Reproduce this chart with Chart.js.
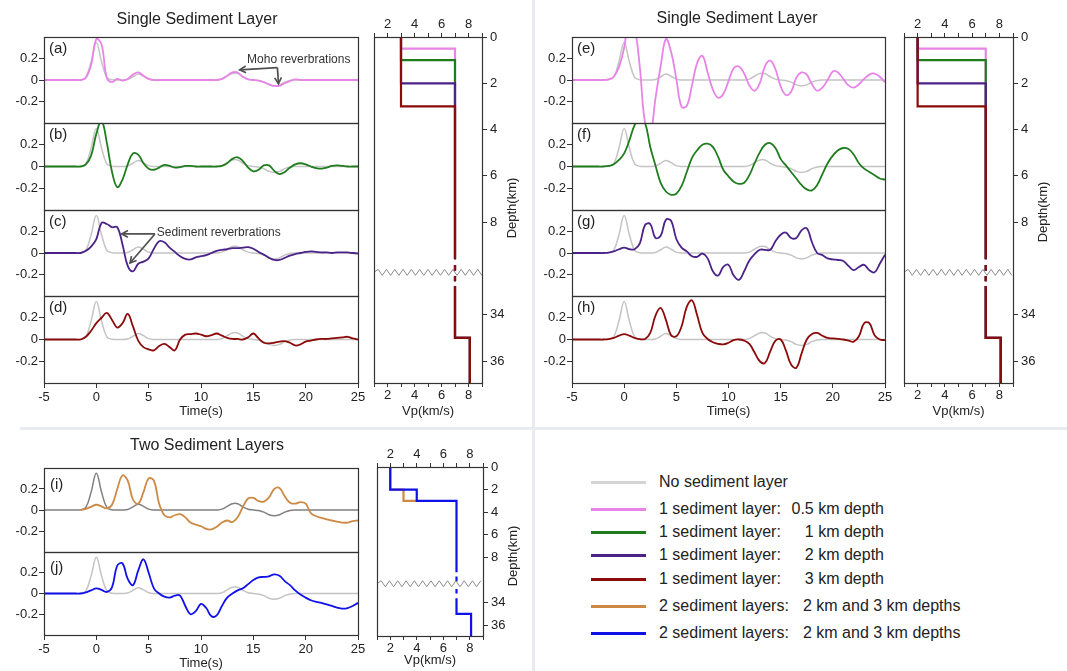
<!DOCTYPE html>
<html>
<head>
<meta charset="utf-8">
<script src="https://cdn.jsdelivr.net/npm/chart.js@4.4.1/dist/chart.umd.min.js"></script>
<style>
  body { margin: 0; background: #fff; }
  #page { position: relative; width: 1067px; height: 671px; overflow: hidden; font-family: "Liberation Sans", Arial, sans-serif; color: #222; }
  canvas { position: absolute; }
  .txt { position: absolute; white-space: pre; line-height: 1; }
  .sep { position: absolute; background: #e8ecf1; }
</style>
</head>
<body>
<div id="page">
  <div class="sep" style="left:532px;top:0;width:3px;height:671px"></div>
  <div class="sep" style="left:20px;top:427px;width:1047px;height:3px"></div>
</div>
<script>
// time axis (s), sampled every 0.5 s
const time = [-5,-4.5,-4,-3.5,-3,-2.5,-2,-1.5,-1,-0.5,
  0,0.5,1,1.5,2,2.5,3,3.5,4,4.5,
  5,5.5,6,6.5,7,7.5,8,8.5,9,9.5,
  10,10.5,11,11.5,12,12.5,13,13.5,14,14.5,
  15,15.5,16,16.5,17,17.5,18,18.5,19,19.5,
  20,20.5,21,21.5,22,22.5,23,23.5,24,24.5,
  25];

// no sediment layer (reference trace)
const noSed = [0,0,0,0,0,0,0,0.003,0.025,0.17,
  0.35,0.17,0.025,0.003,0,0,0.005,0.03,0.055,0.035,
  0.008,0,0,0,0,0,0,0,0,0,
  0,0,0,0,0.008,0.035,0.06,0.06,0.03,0.008,
  0,-0.005,-0.02,-0.045,-0.055,-0.045,-0.02,-0.005,0,0,
  0,0,0,0,0,0,0,0,0,0,
  0];

// left column (a)-(d)
const sedA = [0,0,0,0,0,0,0,0,0.02,0.14,
  0.38,0.33,0.02,-0.02,0.01,-0.005,0.01,0.05,0.07,0.04,
  0.01,0,0,0,0,0,0,0,0,0,
  0,0,0,0,0.01,0.04,0.07,0.07,0.03,0.005,
  0,-0.005,-0.02,-0.04,-0.055,-0.055,-0.03,-0.01,0.005,0,
  0,0,0,0,0,0,0,0,0,0,
  0];
const sedB = [0,0,0,0,0,0,0,0,0.02,0.1,
  0.3,0.42,0.22,-0.05,-0.19,-0.12,0.02,0.12,0.11,0.03,
  -0.02,-0.03,-0.01,0.015,0.005,-0.01,-0.005,0.005,0.005,0,
  0,0,0,0,0.005,0.03,0.07,0.085,0.05,-0.01,
  -0.045,-0.03,0.01,0.01,-0.04,-0.07,-0.05,-0.01,0.02,0.03,
  0.02,0,-0.015,-0.02,-0.01,0.005,0.01,0.005,0,0,
  0];
const sedC = [0,0,0,0,0,0,0,0,0.02,0.06,
  0.13,0.28,0.27,0.24,0.24,0.08,-0.12,-0.17,-0.1,-0.08,
  -0.05,0.04,0.11,0.1,0.05,0.01,-0.03,-0.055,-0.06,-0.04,
  -0.03,-0.02,0,0.02,0.03,0.035,0.045,0.045,0.05,0.055,
  0.04,0.01,-0.015,-0.045,-0.065,-0.065,-0.045,-0.025,-0.01,0,
  0.01,0.015,0.01,0.005,0.005,0,0.005,0.005,0.005,0,
  -0.005];
const sedD = [0,0,0,0,0,0,0,0,0.025,0.08,
  0.15,0.2,0.245,0.18,0.11,0.15,0.235,0.12,-0.01,-0.07,
  -0.09,-0.1,-0.06,-0.04,-0.07,-0.1,0,0.045,0.05,0.055,
  0.045,0.03,0.04,0.055,0.035,0.015,0.005,0.005,0,0.02,
  0.055,0.01,-0.03,-0.035,-0.03,-0.02,-0.015,-0.03,-0.055,-0.045,
  -0.02,-0.01,0,0.005,0.005,0.01,0.015,0.02,0.025,0.01,
  0];

// right column (e)-(h)
const sedE = [0,0,0,0,0,0,0,0.005,0.03,0.12,
  0.3,0.62,0.5,0.12,-0.4,-0.5,-0.17,0.13,0.38,0.26,
  0.01,-0.25,-0.24,-0.05,0.16,0.225,0.07,-0.09,-0.165,-0.13,
  -0.01,0.11,0.125,0.06,-0.05,-0.1,-0.03,0.13,0.18,0.1,
  -0.06,-0.14,-0.11,0.02,0.07,0.05,-0.04,-0.1,-0.07,0,
  0.08,0.07,0.01,-0.05,-0.07,-0.04,0.01,0.05,0.06,0.03,
  -0.02];
const sedF = [0,0,0,0,0,0,0,0.005,0.02,0.06,
  0.12,0.24,0.38,0.44,0.4,0.18,0.01,-0.15,-0.23,-0.26,
  -0.25,-0.18,-0.05,0.08,0.15,0.2,0.21,0.18,0.09,-0.03,
  -0.09,-0.14,-0.16,-0.15,-0.08,0.03,0.13,0.2,0.215,0.17,
  0.07,0.01,-0.05,-0.11,-0.17,-0.21,-0.22,-0.17,-0.07,0.03,
  0.1,0.15,0.17,0.16,0.11,0.03,-0.02,-0.05,-0.08,-0.11,
  -0.12];
const sedG = [0,0,0,0,0,0,0,0.003,0.015,0.035,
  0.05,0.035,0.035,0.09,0.26,0.27,0.14,0.16,0.31,0.3,
  0.13,0.05,0.015,-0.03,-0.035,-0.005,-0.05,-0.17,-0.21,-0.13,
  -0.11,-0.21,-0.25,-0.17,-0.07,-0.01,0.03,0.03,0.03,0.11,
  0.17,0.19,0.14,0.14,0.21,0.23,0.1,0,-0.02,-0.05,
  -0.06,-0.065,-0.075,-0.12,-0.16,-0.13,-0.11,-0.16,-0.18,-0.1,
  -0.015];
const sedH = [0,0,0,0,0,0,0,0.003,0.015,0.035,
  0.05,0.035,0.015,0.003,0.005,0.06,0.22,0.29,0.18,0.04,
  0.03,0.12,0.3,0.36,0.22,0.06,0.005,-0.025,-0.04,-0.045,
  -0.03,-0.005,0,-0.01,-0.04,-0.12,-0.2,-0.215,-0.11,-0.01,
  0,-0.1,-0.23,-0.26,-0.13,0,0.05,0.06,0.035,0.015,
  0.01,0.005,0,-0.01,-0.02,0.03,0.15,0.15,0.04,0,
  -0.005];

// two sediment layers (i), (j)
const twoI = [null,null,null,null,null,null,null,0,0.01,0.03,
  0.05,0.035,0.015,0.05,0.2,0.33,0.28,0.1,0.06,0.17,
  0.3,0.28,0.06,-0.05,-0.07,-0.05,-0.04,-0.07,-0.12,-0.14,
  -0.155,-0.18,-0.185,-0.16,-0.12,-0.1,-0.115,-0.07,0.03,0.11,
  0.115,0.085,0.08,0.12,0.2,0.21,0.13,0.07,0.06,0.075,
  0.06,-0.03,-0.06,-0.075,-0.09,-0.1,-0.11,-0.12,-0.12,-0.105,
  -0.1];
const twoJ = [0,0,0,0,0,0,0,0,0.01,0.03,
  0.05,0.035,0.015,0.06,0.27,0.29,0.14,0.08,0.22,0.33,
  0.2,0.05,0,-0.03,-0.04,-0.02,-0.02,-0.12,-0.2,-0.17,
  -0.1,-0.14,-0.22,-0.21,-0.12,-0.04,0,0.03,0.05,0.09,
  0.13,0.155,0.16,0.165,0.185,0.17,0.12,0.08,0.03,-0.01,
  -0.04,-0.065,-0.08,-0.09,-0.105,-0.12,-0.135,-0.145,-0.14,-0.12,
  -0.09];

// velocity profiles: Vp (km/s) and depth (km), null depth = gap at the axis break
const vpSedLeft = [3,3,7,7,7,7,7,7,7,7,7,7,7,8.1,8.1];
const vpSedRight = [2,2,7,7,7,7,7,7,7,7,7,7,7,8.1,8.1];
const depth05 = [0,0.5,0.5,9.6,null,9.85,10.1,null,32.33,32.55,null,32.76,35,35,37];
const depth1 = [0,1,1,9.6,null,9.85,10.1,null,32.33,32.55,null,32.76,35,35,37];
const depth2 = [0,2,2,9.6,null,9.85,10.1,null,32.33,32.55,null,32.76,35,35,37];
const depth3 = [0,3,3,9.6,null,9.85,10.1,null,32.33,32.55,null,32.76,35,35,37];
const vpTwoOrange = [2,2,3,3,4];
const depthTwoOrange = [0,2,2,3,3];
const vpTwoBlue = [2,2,4,4,7,7,7,7,7,7,7,7,7,7,7,8.1,8.1];
const depthTwoBlue = [0,2,2,3,3,9.3,null,9.68,10.12,null,32.8,33.2,null,33.6,35,35,37];

// ticks
const timeTicks = [-5,0,5,10,15,20,25];
const ampTicks = [-0.2,0,0.2];
const vpTicks = [1,2,3,4,5,6,7,8,9];
const depthTicks = [0,2,4,6,8,34,36];
const depthGap = 22; // km hidden by the axis break

const C = {
  ref: "#c4c4c4", refDark: "#808080", pink: "#e884e8", green: "#1f7d1f",
  purple: "#4b2288", red: "#8b0a0a", orange: "#cd8a45", blue: "#1010e8"
};

const legendColors = ["#d4d4d4", C.pink, C.green, C.purple, C.red, C.orange, C.blue];
const legendLabels = ["No sediment layer", "1 sediment layer:", "1 sediment layer:", "1 sediment layer:",
  "1 sediment layer:", "2 sediment layers:", "2 sediment layers:"];
const legendValues = ["", "0.5 km depth", "1 km depth", "2 km depth", "3 km depth",
  "2 km and 3 km depths", "2 km and 3 km depths"];

const FONT = "'Liberation Sans', Arial, sans-serif";
Chart.defaults.font.family = FONT;
Chart.defaults.font.size = 13;
Chart.defaults.color = "#222";

const page = document.getElementById("page");

function addCanvas(left, top, w, h) {
  const c = document.createElement("canvas");
  c.width = w;
  c.height = h;
  c.style.left = left + "px";
  c.style.top = top + "px";
  c.style.width = w + "px";
  c.style.height = h + "px";
  page.appendChild(c);
  return c;
}

function addText(text, x, y, size, mode) {
  const d = document.createElement("div");
  d.className = "txt";
  d.textContent = text;
  d.style.fontSize = size + "px";
  d.style.left = x + "px";
  d.style.top = y + "px";
  if (mode === "center") d.style.transform = "translate(-50%,-50%)";
  if (mode === "right") d.style.transform = "translate(-100%,-50%)";
  if (mode === "left") d.style.transform = "translate(0,-50%)";
  page.appendChild(d);
  return d;
}

const toAxis = (d) => (d == null ? null : d > 20 ? d - depthGap : d);

const framePlugin = {
  id: "frame",
  afterDraw(chart) {
    const a = chart.chartArea;
    const ctx = chart.ctx;
    ctx.save();
    ctx.strokeStyle = "#333";
    ctx.lineWidth = 1.2;
    ctx.strokeRect(Math.round(a.left) + 0.5, Math.round(a.top) + 0.5,
      Math.round(a.right - a.left), Math.round(a.bottom - a.top));
    ctx.restore();
  }
};

function makeNotes(note) {
  return {
    id: "notes",
    afterDatasetsDraw(chart) {
      const xs = chart.scales.x;
      const ys = chart.scales.y;
      const ctx = chart.ctx;
      ctx.save();
      ctx.font = "12px " + FONT;
      ctx.fillStyle = "#333";
      ctx.textBaseline = "middle";
      ctx.fillText(note.text, xs.getPixelForValue(note.at[0]), ys.getPixelForValue(note.at[1]));
      ctx.strokeStyle = "#505050";
      ctx.lineWidth = 1.7;
      const x0 = xs.getPixelForValue(note.from[0]);
      const y0 = ys.getPixelForValue(note.from[1]);
      note.to.forEach((p) => {
        const x1 = xs.getPixelForValue(p[0]);
        const y1 = ys.getPixelForValue(p[1]);
        const ang = Math.atan2(y1 - y0, x1 - x0);
        ctx.beginPath();
        ctx.moveTo(x0, y0);
        ctx.lineTo(x1, y1);
        ctx.stroke();
        ctx.beginPath();
        ctx.moveTo(x1 - 7 * Math.cos(ang - 0.5), y1 - 7 * Math.sin(ang - 0.5));
        ctx.lineTo(x1, y1);
        ctx.lineTo(x1 - 7 * Math.cos(ang + 0.5), y1 - 7 * Math.sin(ang + 0.5));
        ctx.stroke();
      });
      ctx.restore();
    }
  };
}

// zigzag marking the depth axis break, plus the rotated depth title
function makeBreak(at, titleX, titleY) {
  return {
    id: "axisBreak",
    afterDatasetsDraw(chart) {
      const a = chart.chartArea;
      const y = chart.scales.y.getPixelForValue(at);
      const ctx = chart.ctx;
      ctx.save();
      ctx.strokeStyle = "#8a8a8a";
      ctx.lineWidth = 1;
      ctx.beginPath();
      let up = true;
      ctx.moveTo(a.left, y);
      for (let x = a.left + 4.15; x <= a.right + 0.1; x += 4.15) {
        ctx.lineTo(x, y + (up ? -3 : 3));
        up = !up;
      }
      ctx.stroke();
      ctx.restore();
    },
    afterDraw(chart) {
      const ctx = chart.ctx;
      ctx.save();
      ctx.translate(chart.chartArea.right + titleX, titleY - chart.canvas.offsetTop);
      ctx.rotate(-Math.PI / 2);
      ctx.font = "13px " + FONT;
      ctx.fillStyle = "#222";
      ctx.textAlign = "center";
      ctx.textBaseline = "middle";
      ctx.fillText("Depth(km)", 0, 0);
      ctx.restore();
    }
  };
}

function wavePanel(left, top, bottom, width, series, color, refColor, last, note) {
  const padT = 10, padB = 10, padR = 14, yW = 44, xH = 36;
  const h = padT + (bottom - top) + (last ? xH : 0) + padB;
  const canvas = addCanvas(left - yW, top - padT, yW + width + padR, h);
  const plugins = [framePlugin];
  if (note) plugins.push(makeNotes(note));
  new Chart(canvas, {
    type: "line",
    data: {
      // first dataset is drawn on top
      datasets: [
        { data: time.map((t, i) => ({ x: t, y: series[i] })), borderColor: color, borderWidth: 1.8, pointRadius: 0, tension: 0.4 },
        { data: time.map((t, i) => ({ x: t, y: noSed[i] })), borderColor: refColor, borderWidth: 1.5, pointRadius: 0, tension: 0.4 }
      ]
    },
    options: {
      responsive: false,
      animation: false,
      devicePixelRatio: 1,
      events: [],
      layout: { padding: { top: padT, bottom: padB, right: padR, left: 0 } },
      plugins: { legend: { display: false }, tooltip: { enabled: false } },
      scales: {
        x: {
          type: "linear", min: -5, max: 25, display: last,
          afterBuildTicks: (s) => { s.ticks = timeTicks.map((v) => ({ value: v })); },
          afterFit: (s) => { s.height = last ? xH : 0; },
          grid: { drawOnChartArea: false, tickLength: 5, color: "#333" },
          border: { display: false },
          ticks: { padding: 2, autoSkip: false, maxRotation: 0, color: "#222" },
          title: { display: true, text: "Time(s)", padding: 0, color: "#222", font: { size: 13 } }
        },
        y: {
          min: -0.4, max: 0.4,
          afterBuildTicks: (s) => { s.ticks = ampTicks.map((v) => ({ value: v })); },
          afterFit: (s) => { s.width = yW; },
          grid: { drawOnChartArea: false, tickLength: 5, color: "#333" },
          border: { display: false },
          ticks: { padding: 1, color: "#222", callback: (v) => (v === 0 ? "0" : v.toFixed(1)) }
        }
      }
    },
    plugins
  });
}

function profilePanel(left, top, right, bottom, lines, breakAt, xH, titleY) {
  const padL = 10, padT = 4, padR = 14, padB = 4, x2H = 28, yW = 30;
  const canvas = addCanvas(left - padL, top - padT - x2H, padL + (right - left) + yW + padR,
    padT + x2H + (bottom - top) + xH + padB);
  const vpAxis = (pos, hgt, titled) => ({
    type: "linear", position: pos, min: 1, max: 9,
    afterBuildTicks: (s) => { s.ticks = vpTicks.map((v) => ({ value: v })); },
    afterFit: (s) => { s.height = hgt; },
    grid: { drawOnChartArea: false, tickLength: 4, color: "#333" },
    border: { display: false },
    ticks: { padding: 1, autoSkip: false, maxRotation: 0, color: "#222", callback: (v) => (v % 2 === 0 ? String(v) : "") },
    title: { display: titled, text: "Vp(km/s)", padding: 0, color: "#222", font: { size: 13 } }
  });
  new Chart(canvas, {
    type: "line",
    data: {
      // lines are listed bottom-up; Chart.js paints the first dataset last, so reverse
      datasets: lines.slice().reverse().map((l) => ({
        data: l.vp.map((v, i) => ({ x: v, y: toAxis(l.depth[i]) })),
        borderColor: l.color, borderWidth: 2.2, pointRadius: 0, tension: 0, spanGaps: false
      }))
    },
    options: {
      responsive: false,
      animation: false,
      devicePixelRatio: 1,
      events: [],
      layout: { padding: { top: padT, bottom: padB, left: padL, right: padR } },
      plugins: { legend: { display: false }, tooltip: { enabled: false } },
      scales: {
        x: vpAxis("bottom", xH, true),
        x2: vpAxis("top", x2H, false),
        y: {
          type: "linear", position: "right", reverse: true, min: 0, max: 14.95,
          afterBuildTicks: (s) => { s.ticks = depthTicks.map((d) => ({ value: toAxis(d) })); },
          afterFit: (s) => { s.width = yW; },
          grid: { drawOnChartArea: false, tickLength: 5, color: "#333" },
          border: { display: false },
          ticks: { padding: 3, autoSkip: false, color: "#222", callback: (v) => String(v > 11 ? v + depthGap : v) }
        }
      }
    },
    plugins: [framePlugin, makeBreak(breakAt, 30, titleY)]
  });
}

// --- top: single sediment layer ---
const rowTops = [37, 123, 210, 296, 383];
const leftSet = [[sedA, C.pink, "(a)"], [sedB, C.green, "(b)"], [sedC, C.purple, "(c)"], [sedD, C.red, "(d)"]];
const rightSet = [[sedE, C.pink, "(e)"], [sedF, C.green, "(f)"], [sedG, C.purple, "(g)"], [sedH, C.red, "(h)"]];
const notes = {
  0: { text: "Moho reverbrations", at: [14.4, 0.186], from: [17.3, 0.115], to: [[13.7, 0.095], [17.4, -0.035]] },
  2: { text: "Sediment reverbrations", at: [5.77, 0.185], from: [5.6, 0.177], to: [[2.43, 0.177], [3.22, -0.093]] }
};

leftSet.forEach((p, i) => {
  wavePanel(44, rowTops[i], rowTops[i + 1], 314, p[0], p[1], C.ref, i === 3, notes[i]);
  addText(p[2], 49, rowTops[i] + 10, 15, "left");
});
rightSet.forEach((p, i) => {
  wavePanel(572, rowTops[i], rowTops[i + 1], 313, p[0], p[1], C.ref, i === 3, null);
  addText(p[2], 577, rowTops[i] + 10, 15, "left");
});

profilePanel(374, 37, 482, 383, [
  { vp: vpSedLeft, depth: depth05, color: C.pink },
  { vp: vpSedLeft, depth: depth1, color: C.green },
  { vp: vpSedLeft, depth: depth2, color: C.purple },
  { vp: vpSedLeft, depth: depth3, color: C.red }
], 10.17, 36, 208);
profilePanel(904, 37, 1013, 383, [
  { vp: vpSedRight, depth: depth05, color: C.pink },
  { vp: vpSedRight, depth: depth1, color: C.green },
  { vp: vpSedRight, depth: depth2, color: C.purple },
  { vp: vpSedRight, depth: depth3, color: C.red }
], 10.17, 36, 212);

// --- bottom left: two sediment layers ---
const lowTops = [468, 552, 635];
wavePanel(44, lowTops[0], lowTops[1], 314, twoI, C.orange, C.refDark, false, null);
wavePanel(44, lowTops[1], lowTops[2], 314, twoJ, C.blue, C.ref, true, null);
addText("(i)", 50, lowTops[0] + 15, 15, "left");
addText("(j)", 50, lowTops[1] + 14, 15, "left");

profilePanel(377, 467, 483, 636, [
  { vp: vpTwoOrange, depth: depthTwoOrange, color: C.orange },
  { vp: vpTwoBlue, depth: depthTwoBlue, color: C.blue }
], 10.33, 32, 556);

// titles
addText("Single Sediment Layer", 197, 19, 16, "center");
addText("Single Sediment Layer", 737, 18, 16, "center");
addText("Two Sediment Layers", 207, 445, 16, "center");

// legend
const legendRows = [482, 509, 532, 555, 579, 606, 633];
legendRows.forEach((y, i) => {
  const sw = document.createElement("div");
  sw.style.cssText = "position:absolute;left:591px;width:55px;height:3px;top:" + (y - 1.5) + "px;background:" + legendColors[i];
  page.appendChild(sw);
  addText(legendLabels[i], 659, y, 16, "left");
  if (legendValues[i]) {
    if (i >= 5) addText(legendValues[i], 803, y, 16, "left");
    else addText(legendValues[i], 884, y, 16, "right");
  }
});
</script>
</body>
</html>
